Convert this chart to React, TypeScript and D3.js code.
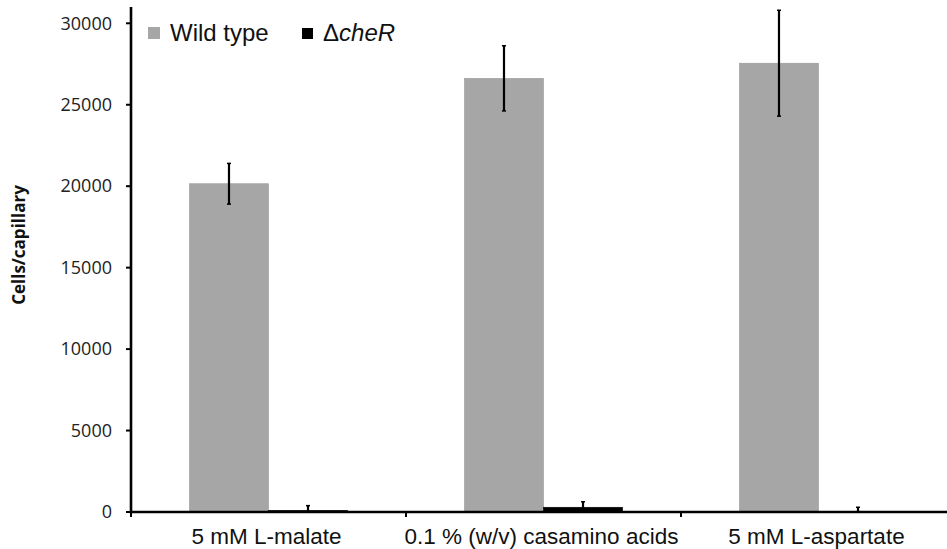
import React from "react";
import * as d3 from "d3";

const categories = ["5 mM L-malate", "0.1 % (w/v) casamino acids", "5 mM L-aspartate"];
const series = ["Wild type", "ΔcheR"];
const wildTypeValues = [20150, 26620, 27550];
const wildTypeErrors = [1250, 2000, 3250];
const cheRValues = [100, 290, 20];
const cheRErrors = [290, 340, 270];
const yTicks = [0, 5000, 10000, 15000, 20000, 25000, 30000];

const W = 947;
const H = 549;
const left = 131;
const bandW = 275;
const y0 = 512;
const yTop = 7;

export default function App() {
  const y = d3.scaleLinear().domain([0, 31000]).range([y0, yTop]);
  const x0 = d3
    .scaleBand<string>()
    .domain(categories)
    .range([left, left + bandW * categories.length])
    .paddingInner(0)
    .paddingOuter(0);
  const x1 = d3
    .scaleBand<string>()
    .domain(series)
    .range([0, x0.bandwidth()])
    .paddingInner(0)
    .paddingOuter(0.74);
  const colors = ["#a6a6a6", "#000000"];
  const valuesBySeries = [wildTypeValues, cheRValues];
  const errorsBySeries = [wildTypeErrors, cheRErrors];

  const tickXs = [left, ...categories.map((c) => (x0(c) as number) + x0.bandwidth())];

  return (
    <svg
      width={W}
      height={H}
      style={{ position: "absolute", left: 0, top: 0, background: "#fff" }}
    >
      <rect x={0} y={0} width={W} height={H} fill="#fff" />
      {categories.map((c, ci) =>
        series.map((s, si) => {
          const v = valuesBySeries[si][ci];
          const bx = (x0(c) as number) + (x1(s) as number);
          const bw = x1.bandwidth();
          return (
            <rect
              key={c + s}
              x={bx}
              y={y(v)}
              width={bw}
              height={y0 - y(v)}
              fill={colors[si]}
              stroke={si === 0 ? "#999" : "#000"}
              strokeWidth={0.6}
            />
          );
        })
      )}
      {categories.map((c, ci) =>
        series.map((s, si) => {
          const v = valuesBySeries[si][ci];
          const e = errorsBySeries[si][ci];
          const cx = (x0(c) as number) + (x1(s) as number) + x1.bandwidth() / 2;
          return (
            <g key={"e" + c + s}>
              <line
                x1={cx}
                x2={cx}
                y1={y(v + e)}
                y2={Math.min(y0, y(Math.max(0, v - e)))}
                stroke="#000"
                strokeWidth={2.2}
              />
              <line x1={cx - 2} x2={cx + 2} y1={y(v + e)} y2={y(v + e)} stroke="#000" strokeWidth={1.5} />
              {v - e > 0 && (
                <line x1={cx - 2} x2={cx + 2} y1={y(v - e)} y2={y(v - e)} stroke="#000" strokeWidth={1.5} />
              )}
            </g>
          );
        })
      )}
      <line x1={left} x2={left} y1={yTop} y2={y0 + 1.5} stroke="#000" strokeWidth={2.6} />
      {yTicks.map((t) => (
        <g key={"yt" + t}>
          <line x1={left - 5} x2={left} y1={y(t)} y2={y(t)} stroke="#000" strokeWidth={2} />
          <text
            x={112}
            y={y(t)}
            dy="0.35em"
            textAnchor="end"
            fontFamily="'Open Sans', sans-serif"
            fontSize={18}
            fill="#222"
          >
            {t}
          </text>
        </g>
      ))}
      <line x1={left - 1} x2={W} y1={y0} y2={y0} stroke="#000" strokeWidth={2.6} />
      {tickXs.map((tx, i) => (
        <line key={"xt" + i} x1={tx} x2={tx} y1={y0} y2={y0 + 5} stroke="#000" strokeWidth={2} />
      ))}
      {categories.map((c) => (
        <text
          key={"xl" + c}
          x={(x0(c) as number) + x0.bandwidth() / 2 - 2}
          y={544}
          textAnchor="middle"
          fontFamily="'Liberation Sans', Arial, sans-serif"
          fontSize={22.5}
          fill="#111"
        >
          {c}
        </text>
      ))}
      <text
        transform="translate(25,245) rotate(-90)"
        textAnchor="middle"
        fontFamily="'Open Sans', sans-serif"
        fontWeight="bold"
        fontSize={17}
        fill="#111"
      >
        Cells/capillary
      </text>
      <rect x={148} y={27} width={12} height={12} fill={colors[0]} />
      <text x={170} y={41} fontFamily="'Liberation Sans', Arial, sans-serif" fontSize={24} fill="#111">
        {series[0]}
      </text>
      <rect x={302} y={28} width={11} height={11} fill={colors[1]} />
      <text x={323} y={41} fontFamily="'Liberation Sans', Arial, sans-serif" fontSize={24} fill="#111">
        {series[1].slice(0, 1)}
        <tspan fontStyle="italic">{series[1].slice(1)}</tspan>
      </text>
    </svg>
  );
}
